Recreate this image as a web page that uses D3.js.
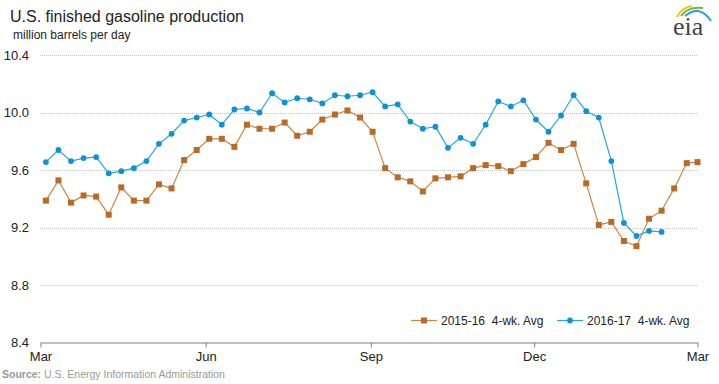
<!DOCTYPE html>
<html>
<head>
<meta charset="utf-8">
<script src="https://cdn.jsdelivr.net/npm/d3@7"></script>
<style>
  body { margin: 0; background: #fff; }
  svg { display: block; font-family: "Liberation Sans", Arial, sans-serif; }
</style>
</head>
<body>
<div id="chart"></div>
<script>
// week dates (2015-16 season, the 2016-17 series is drawn on the same days)
var weeks = ["2015-03-04","2015-03-11","2015-03-18","2015-03-25","2015-04-01","2015-04-08","2015-04-15",
  "2015-04-22","2015-04-29","2015-05-06","2015-05-13","2015-05-20","2015-05-27","2015-06-03","2015-06-10",
  "2015-06-17","2015-06-24","2015-07-01","2015-07-08","2015-07-15","2015-07-22","2015-07-29","2015-08-05",
  "2015-08-12","2015-08-19","2015-08-26","2015-09-02","2015-09-09","2015-09-16","2015-09-23","2015-09-30",
  "2015-10-07","2015-10-14","2015-10-21","2015-10-28","2015-11-04","2015-11-11","2015-11-18","2015-11-25",
  "2015-12-02","2015-12-09","2015-12-16","2015-12-23","2015-12-30","2016-01-06","2016-01-13","2016-01-20",
  "2016-01-27","2016-02-03","2016-02-10","2016-02-17","2016-02-24","2016-03-01"];

var avg1516 = [9.387, 9.528, 9.373, 9.423, 9.415, 9.289, 9.479, 9.387, 9.387, 9.500,
  9.472, 9.669, 9.739, 9.817, 9.817, 9.761, 9.915, 9.887, 9.887, 9.930,
  9.838, 9.866, 9.951, 9.986, 10.014, 9.965, 9.866, 9.613, 9.549, 9.521,
  9.451, 9.542, 9.549, 9.556, 9.613, 9.634, 9.627, 9.592, 9.641, 9.690,
  9.789, 9.739, 9.782, 9.507, 9.218, 9.239, 9.106, 9.070, 9.261, 9.317,
  9.472, 9.648, 9.655];

var avg1617 = [9.655, 9.739, 9.662, 9.683, 9.690, 9.577, 9.592, 9.613, 9.662, 9.782,
  9.852, 9.944, 9.965, 9.986, 9.915, 10.021, 10.028, 10.000, 10.134, 10.070,
  10.099, 10.092, 10.063, 10.120, 10.113, 10.120, 10.141, 10.042, 10.056, 9.937,
  9.887, 9.901, 9.754, 9.824, 9.782, 9.915, 10.077, 10.042, 10.085, 9.951,
  9.866, 9.979, 10.120, 10.009, 9.965, 9.662, 9.232, 9.141, 9.176, 9.169];

var yTicks = [8.4, 8.8, 9.2, 9.6, 10.0, 10.4];
var xTickDates = ["2015-03-01", "2015-06-01", "2015-09-01", "2015-12-01", "2016-03-01"];
var xTickLabels = ["Mar", "Jun", "Sep", "Dec", "Mar"];
var seriesNames = ["2015-16  4-wk. Avg", "2016-17  4-wk. Avg"];

var width = 719, height = 384;
var orange = "#b96a25", orangeLine = "#c98745";
var blue = "#0b93d5", blueLine = "#2aa3de";

var parseDate = d3.timeParse("%Y-%m-%d");

var svg = d3.select("#chart").append("svg")
    .attr("width", width).attr("height", height);

var x = d3.scaleTime()
    .domain([parseDate(xTickDates[0]), parseDate(xTickDates[xTickDates.length - 1])])
    .range([40.5, 697.5]);
var y = d3.scaleLinear().domain([8.4, 10.4]).range([342.5, 55]);

// title
svg.append("text").attr("x", 10).attr("y", 22)
    .attr("font-size", "16px").attr("fill", "#222")
    .text("U.S. finished gasoline production");
svg.append("text").attr("x", 13).attr("y", 39)
    .attr("font-size", "12px").attr("fill", "#222")
    .text("million barrels per day");

// eia logo
var logo = svg.append("g");
logo.append("path").attr("d", "M677,17 Q681,8 692,6").attr("fill", "none")
    .attr("stroke", "#f1c40f").attr("stroke-width", 2);
logo.append("path").attr("d", "M681,16 Q688,6 703,8").attr("fill", "none")
    .attr("stroke", "#7cb342").attr("stroke-width", 2);
logo.append("path").attr("d", "M685,16 Q700,4 711,21").attr("fill", "none")
    .attr("stroke", "#2a9fd8").attr("stroke-width", 2);
logo.append("text").attr("x", 673).attr("y", 35)
    .attr("font-family", "'Liberation Serif', 'DejaVu Serif', serif")
    .attr("font-size", "26px").attr("fill", "#444").text("eia");

// gridlines
svg.append("g").selectAll("line")
    .data(yTicks.filter(function(d){ return d > 8.4; }))
    .join("line")
    .attr("x1", 40).attr("x2", 698)
    .attr("y1", function(d){ return Math.round(y(d)) + 0.5; })
    .attr("y2", function(d){ return Math.round(y(d)) + 0.5; })
    .attr("stroke", "#c4c4c4").attr("stroke-dasharray", "1,1");

// y axis labels
svg.append("g").selectAll("text")
    .data(yTicks)
    .join("text")
    .attr("x", 29).attr("y", function(d){ return y(d); })
    .attr("dy", "0.36em").attr("text-anchor", "end")
    .attr("font-size", "13px").attr("fill", "#222")
    .text(function(d){ return d3.format(".1f")(d); });

// x axis
var xAxis = d3.axisBottom(x)
    .tickValues(xTickDates.map(parseDate))
    .tickSize(5).tickSizeOuter(0)
    .tickFormat(function(d, i){ return xTickLabels[i]; });
var gx = svg.append("g").attr("transform", "translate(0,342.5)").call(xAxis);
gx.select(".domain").attr("stroke", "#808080");
gx.selectAll(".tick line").attr("stroke", "#808080");
gx.selectAll(".tick text").attr("font-size", "13px").attr("fill", "#222")
    .attr("font-family", "'Liberation Sans', Arial, sans-serif").attr("y", 9);

// series
var dates = weeks.map(parseDate);
var line = d3.line()
    .x(function(d, i){ return x(dates[i]); })
    .y(function(d){ return y(d); });

svg.append("path").datum(avg1516).attr("d", line)
    .attr("fill", "none").attr("stroke", orangeLine).attr("stroke-width", 1.2);
svg.append("g").selectAll("rect")
    .data(avg1516).join("rect")
    .attr("x", function(d, i){ return x(dates[i]) - 3; })
    .attr("y", function(d){ return y(d) - 3; })
    .attr("width", 6).attr("height", 6).attr("fill", orange);

svg.append("path").datum(avg1617).attr("d", line)
    .attr("fill", "none").attr("stroke", blueLine).attr("stroke-width", 1.2);
svg.append("g").selectAll("circle")
    .data(avg1617).join("circle")
    .attr("cx", function(d, i){ return x(dates[i]); })
    .attr("cy", function(d){ return y(d); })
    .attr("r", 2.9).attr("fill", blue);

// legend
var legend = svg.append("g").attr("transform", "translate(0,320.5)");
legend.append("line").attr("x1", 411).attr("x2", 437).attr("stroke", orangeLine).attr("stroke-width", 1.2);
legend.append("rect").attr("x", 421).attr("y", -3).attr("width", 6).attr("height", 6).attr("fill", orange);
legend.append("text").attr("x", 441).attr("y", 4.5).attr("font-size", "12px").attr("fill", "#222")
    .style("white-space", "pre").text(seriesNames[0]);
legend.append("line").attr("x1", 557).attr("x2", 583).attr("stroke", blueLine).attr("stroke-width", 1.2);
legend.append("circle").attr("cx", 570).attr("cy", 0).attr("r", 2.9).attr("fill", blue);
legend.append("text").attr("x", 587).attr("y", 4.5).attr("font-size", "12px").attr("fill", "#222")
    .style("white-space", "pre").text(seriesNames[1]);

// source
var src = svg.append("text").attr("x", 2).attr("y", 378).attr("font-size", "10.5px").attr("fill", "#999");
src.append("tspan").attr("font-weight", "bold").text("Source:");
src.append("tspan").text(" U.S. Energy Information Administration");
</script>
</body>
</html>
